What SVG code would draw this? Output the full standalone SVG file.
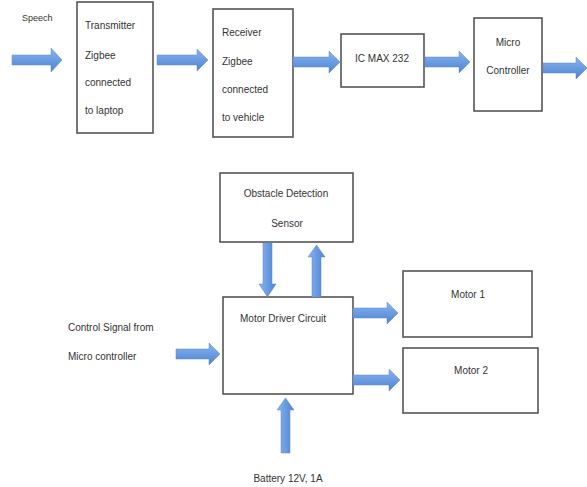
<svg xmlns="http://www.w3.org/2000/svg" width="587" height="487" viewBox="0 0 587 487">
<style>
.box{fill:#fff;stroke:#555;stroke-width:1.6}
.t{font-family:"Liberation Sans",Arial,sans-serif;font-size:10px;fill:#333}
.c{text-anchor:middle}
.arr{fill:url(#gh);stroke:#5a88cc;stroke-width:0.5}
.varr{fill:url(#gv);stroke:#5a88cc;stroke-width:0.5}
</style>
<defs>
<linearGradient id="gh" x1="0" y1="0" x2="0" y2="1">
<stop offset="0" stop-color="#8db5ec"/><stop offset="0.5" stop-color="#6a9be2"/><stop offset="1" stop-color="#4f84d2"/>
</linearGradient>
<linearGradient id="gv" x1="0" y1="0" x2="1" y2="0">
<stop offset="0" stop-color="#8db5ec"/><stop offset="0.5" stop-color="#6a9be2"/><stop offset="1" stop-color="#4f84d2"/>
</linearGradient>
</defs>
<rect width="587" height="487" fill="#fff"/>
<text class="t" x="22" y="21" style="font-size:9px">Speech</text>

<g id="transmitter">
<rect class="box" x="77" y="2" width="76" height="131"/>
<text class="t" x="85" y="28.5">Transmitter</text>
<text class="t" x="85" y="58.5">Zigbee</text>
<text class="t" x="85" y="85.5">connected</text>
<text class="t" x="85" y="113.5">to laptop</text>
</g>
<g id="receiver">
<rect class="box" x="213" y="9" width="80" height="128"/>
<text class="t" x="222" y="35.5">Receiver</text>
<text class="t" x="222" y="64.5">Zigbee</text>
<text class="t" x="222" y="92.5">connected</text>
<text class="t" x="222" y="120.5">to vehicle</text>
</g>
<g id="icmax">
<rect class="box" x="341" y="34" width="83" height="53"/>
<text class="t c" x="382" y="61.5">IC MAX 232</text>
</g>
<g id="micro">
<rect class="box" x="474" y="18" width="68" height="93"/>
<text class="t c" x="508" y="45.5">Micro</text>
<text class="t c" x="508" y="73.5">Controller</text>
</g>
<g id="obstacle">
<rect class="box" x="220" y="173" width="133" height="69"/>
<text class="t c" x="286" y="196.5">Obstacle Detection</text>
<text class="t c" x="287" y="226.5">Sensor</text>
</g>
<g id="driver">
<rect class="box" x="223" y="297" width="130" height="97"/>
<text class="t" x="240" y="321.5">Motor Driver Circuit</text>
</g>
<g id="motor1">
<rect class="box" x="403" y="271" width="129" height="66"/>
<text class="t c" x="468" y="297.5">Motor 1</text>
</g>
<g id="motor2">
<rect class="box" x="403" y="348" width="135" height="65"/>
<text class="t c" x="471" y="373.5">Motor 2</text>
</g>
<g id="labels">
<text class="t" x="68" y="330.5">Control Signal from</text>
<text class="t" x="68" y="359.5">Micro controller</text>
<text class="t c" x="288" y="481.5">Battery 12V, 1A</text>
</g>

<g id="connectors">
<polygon class="arr" points="12,55 51,55 51,48 62,60 51,72 51,65 12,65"/>
<polygon class="arr" points="157,55 197,55 197,49 208,60 197,71 197,65 157,65"/>
<polygon class="arr" points="293,57 329,57 329,51 340,62 329,73 329,67 293,67"/>
<polygon class="arr" points="425,57 459,57 459,51 470,62 459,73 459,67 425,67"/>
<polygon class="arr" points="543,63 576,63 576,57 587,68 576,79 576,73 543,73"/>
<polygon class="arr" points="176,349 209,349 209,343 220,354 209,365 209,359 176,359"/>
<polygon class="arr" points="353,308 387,308 387,302 398,313 387,324 387,318 353,318"/>
<polygon class="arr" points="353,375 389,375 389,369 400,380 389,391 389,385 353,385"/>
<polygon class="varr" points="263,243 272,243 272,284 276,284 267.5,297 259,284 263,284"/>
<polygon class="varr" points="312,297 321,297 321,257 325,257 316.5,245 308,257 312,257"/>
<polygon class="varr" points="281,453 290,453 290,410 294,410 285.5,398 277,410 281,410"/>
</g>
</svg>
